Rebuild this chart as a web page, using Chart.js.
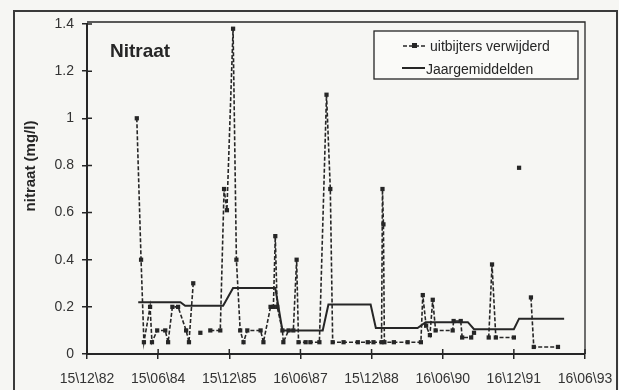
<!DOCTYPE html>
<html>
<head>
<meta charset="utf-8">
<script src="https://cdn.jsdelivr.net/npm/chart.js@4"></script>
<style>
  html, body { margin: 0; padding: 0; background: #f6f6f3; }
  #wrap { width: 619px; height: 390px; position: relative; }
</style>
</head>
<body>
<div id="wrap"><canvas id="chart" width="619" height="390"></canvas></div>
<script>
// x values are decimal years, y values in mg/l
var tickYears = [1982.95, 1984.45, 1985.95, 1987.45, 1988.95, 1990.45, 1991.95, 1993.45]
var tickLabels = ['15\\12\\82', '15\\06\\84', '15\\12\\85', '16\\06\\87', '15\\12\\88', '16\\06\\90', '16\\12\\91', '16\\06\\93']

// measurements, outliers removed (null = break in the line)
var obsYears = [1984.00, 1984.09, 1984.15, 1984.28, 1984.32, 1984.43, 1984.60, 1984.66, 1984.75, 1984.87,
  1985.04, 1985.10, 1985.19, 1985.27, 1985.34, 1985.45, 1985.55, 1985.76, 1985.84, 1985.90,
  1986.03, 1986.10, 1986.18, 1986.25, 1986.33, 1986.61, 1986.67, 1986.82, 1986.88, 1986.92,
  1986.96, 1987.07, 1987.09, 1987.20, 1987.30, 1987.37, 1987.41, 1987.56, 1987.66, 1987.85,
  1988.00, 1988.08, 1988.13, 1988.36, 1988.66, 1988.87, 1988.99, 1989.16, 1989.18, 1989.20,
  1989.22, 1989.42, 1989.71, 1989.99, 1990.03, 1990.10, 1990.18, 1990.24, 1990.30, 1990.66,
  1990.68, 1990.83, 1990.86, 1991.05, 1991.11, 1991.25, 1991.42, 1991.49, 1991.57, 1991.95,
  1992.00, 1992.06, 1992.18, 1992.31, 1992.37, 1992.88]
var obsValues = [1.00, 0.40, 0.05, 0.20, 0.05, 0.10, 0.10, 0.05, 0.20, 0.20,
  0.10, 0.05, 0.30, null, 0.09, null, 0.10, 0.10, 0.70, 0.61,
  1.38, 0.40, 0.10, 0.05, 0.10, 0.10, 0.05, 0.20, 0.20, 0.50,
  0.20, 0.10, 0.05, 0.10, 0.10, 0.40, 0.05, 0.05, 0.05, 0.05,
  1.10, 0.70, 0.05, 0.05, 0.05, 0.05, 0.05, 0.05, 0.70, 0.55,
  0.05, 0.05, 0.05, 0.05, 0.25, 0.12, 0.08, 0.23, 0.10, 0.10,
  0.14, 0.14, 0.07, 0.07, 0.09, null, 0.07, 0.38, 0.07, 0.07,
  null, 0.79, null, 0.24, 0.03, 0.03]

// yearly means
var meanYears = [1984.03, 1984.92, 1985.02, 1985.82, 1986.03, 1986.92, 1987.07, 1987.92, 1988.04,
  1988.93, 1989.04, 1989.92, 1990.09, 1990.98, 1991.11, 1991.95, 1992.06, 1993.01]
var meanValues = [0.22, 0.22, 0.205, 0.205, 0.28, 0.28, 0.10, 0.10, 0.21,
  0.21, 0.11, 0.11, 0.135, 0.135, 0.105, 0.105, 0.15, 0.15]

var ink = '#262626'
var font = '"Liberation Sans", Arial, sans-serif'

function points(xs, ys) {
  var out = []
  for (var i = 0; i < xs.length; i++) out.push({ x: xs[i], y: ys[i] })
  return out
}

// frame, inner tick marks, title, axis title and legend box
var decor = {
  id: 'decor',
  beforeDraw: function (chart) {
    var ctx = chart.ctx
    ctx.save()
    ctx.fillStyle = '#f6f6f3'
    ctx.fillRect(0, 0, chart.width, chart.height)
    ctx.strokeStyle = '#3a3a3a'
    ctx.lineWidth = 2
    ctx.strokeRect(14, 11, 603, 390)
    ctx.restore()
  },
  afterDraw: function (chart) {
    var ctx = chart.ctx
    var a = chart.chartArea
    var xs = chart.scales.x, ys = chart.scales.y
    ctx.save()
    ctx.strokeStyle = ink
    ctx.lineWidth = 1.3
    ctx.beginPath()
    ctx.moveTo(a.left, a.top - 2); ctx.lineTo(a.right, a.top - 2); ctx.lineTo(a.right, a.bottom)
    ctx.stroke()
    ctx.lineWidth = 1.5
    ctx.beginPath()
    ys.ticks.forEach(function (t) {
      var p = ys.getPixelForValue(t.value)
      ctx.moveTo(a.left, p); ctx.lineTo(a.left + 5, p)
    })
    xs.ticks.forEach(function (t) {
      var p = xs.getPixelForValue(t.value)
      ctx.moveTo(p, a.bottom); ctx.lineTo(p, a.bottom - 5)
    })
    ctx.stroke()

    ctx.fillStyle = ink
    ctx.font = 'bold 19px ' + font
    ctx.textBaseline = 'alphabetic'
    ctx.fillText('Nitraat', 110, 57)

    ctx.save()
    ctx.translate(35, 166)
    ctx.rotate(-Math.PI / 2)
    ctx.font = 'bold 15px ' + font
    ctx.textAlign = 'center'
    ctx.fillText('nitraat (mg/l)', 0, 0)
    ctx.restore()

    // legend
    ctx.fillStyle = '#fafaf8'
    ctx.fillRect(374, 31, 204, 48)
    ctx.lineWidth = 1.3
    ctx.strokeRect(374, 31, 204, 48)
    ctx.lineWidth = 1.6
    ctx.setLineDash([4, 2])
    ctx.beginPath(); ctx.moveTo(403, 46); ctx.lineTo(427, 46); ctx.stroke()
    ctx.setLineDash([])
    ctx.fillStyle = ink
    ctx.fillRect(412, 43, 5, 5)
    ctx.lineWidth = 2
    ctx.beginPath(); ctx.moveTo(402, 68); ctx.lineTo(425, 68); ctx.stroke()
    ctx.font = '14px ' + font
    ctx.textBaseline = 'middle'
    ctx.fillText('uitbijters verwijderd', 430, 47)
    ctx.fillText('Jaargemiddelden', 426, 70)
    ctx.restore()
  }
}

var chart = new Chart(document.getElementById('chart'), {
  type: 'scatter',
  data: {
    datasets: [
      {
        label: 'uitbijters verwijderd',
        data: points(obsYears, obsValues),
        showLine: true,
        spanGaps: false,
        borderColor: ink,
        borderWidth: 1.6,
        borderDash: [4, 2],
        pointStyle: 'rect',
        pointRadius: 3,
        pointBackgroundColor: ink,
        pointBorderWidth: 0
      },
      {
        label: 'Jaargemiddelden',
        data: points(meanYears, meanValues),
        showLine: true,
        borderColor: ink,
        borderWidth: 2,
        pointRadius: 0
      }
    ]
  },
  options: {
    responsive: false,
    animation: false,
    layout: { padding: { top: 24, right: 34, left: 0, bottom: 0 } },
    plugins: { legend: { display: false }, tooltip: { enabled: false } },
    scales: {
      x: {
        type: 'linear',
        min: tickYears[0],
        max: tickYears[tickYears.length - 1],
        afterBuildTicks: function (scale) {
          scale.ticks = tickYears.map(function (v) { return { value: v } })
        },
        afterFit: function (scale) {
          scale.height = 36
          scale.paddingLeft = 0
          scale.paddingRight = 0
        },
        ticks: {
          padding: 12,
          color: '#333',
          font: { family: font, size: 14 },
          maxRotation: 0,
          autoSkip: false,
          callback: function (v, i) { return tickLabels[i] }
        },
        grid: { drawOnChartArea: false, tickLength: 5, color: ink, lineWidth: 1.5 },
        border: { color: ink, width: 2 }
      },
      y: {
        min: 0,
        max: 1.4,
        afterFit: function (scale) {
          scale.width = 87
          scale.paddingTop = 0
          scale.paddingBottom = 0
        },
        ticks: {
          stepSize: 0.2,
          padding: 8,
          color: '#333',
          font: { family: font, size: 14 },
          callback: function (v) { return String(+v.toFixed(1)) }
        },
        grid: { drawOnChartArea: false, tickLength: 5, color: ink, lineWidth: 1.5 },
        border: { color: ink, width: 2 }
      }
    }
  },
  plugins: [decor]
})
</script>
</body>
</html>
